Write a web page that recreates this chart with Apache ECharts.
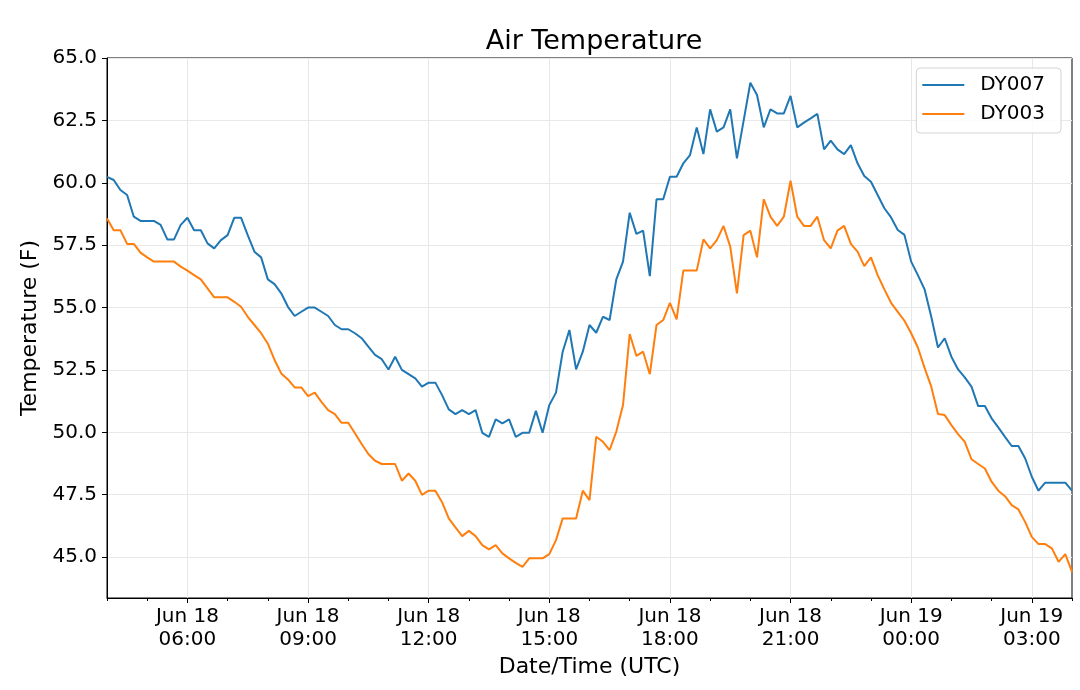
<!DOCTYPE html>
<html>
<head>
<meta charset="utf-8">
<title>Air Temperature</title>
<script src="https://cdn.jsdelivr.net/npm/echarts@6/dist/echarts.min.js"></script>
<style>
  html, body { margin: 0; padding: 0; background: #fff; }
  #chart { width: 1080px; height: 690px; }
</style>
</head>
<body>
<div id="chart"></div>
<script>
////////////////////
// data (10 minute readings, Jun 18 04:00 -> Jun 19 04:00 UTC)
////////////////////
var seriesNames = ['DY007', 'DY003'];

var dy007 = [
  60.24, 60.11, 59.71, 59.51, 58.64, 58.47, 58.47, 58.47, 58.31, 57.73,
  57.73, 58.31, 58.60, 58.10, 58.10, 57.57, 57.37, 57.70, 57.90, 58.60,
  58.60, 57.90, 57.24, 57.01, 56.13, 55.94, 55.57, 55.03, 54.66, 54.83,
  55.00, 55.00, 54.83, 54.66, 54.30, 54.13, 54.13, 53.97, 53.77, 53.43,
  53.10, 52.93, 52.52, 53.03, 52.50, 52.33, 52.16, 51.83, 51.99, 51.99,
  51.49, 50.92, 50.73, 50.89, 50.73, 50.89, 49.98, 49.82, 50.52, 50.36,
  50.52, 49.82, 49.98, 49.98, 50.86, 49.98, 51.09, 51.59, 53.23, 54.10,
  52.52, 53.23, 54.30, 53.99, 54.63, 54.50, 56.13, 56.84, 58.80, 57.95,
  58.08, 56.26, 59.34, 59.34, 60.24, 60.24, 60.78, 61.11, 62.22, 61.15,
  62.94, 62.05, 62.22, 62.94, 60.98, 62.49, 64.01, 63.52, 62.22, 62.94,
  62.78, 62.78, 63.48, 62.22, 62.41, 62.58, 62.76, 61.34, 61.69, 61.34,
  61.15, 61.51, 60.78, 60.27, 60.04, 59.51, 58.98, 58.61, 58.11, 57.91,
  56.84, 56.30, 55.73, 54.63, 53.40, 53.77, 53.03, 52.52, 52.20, 51.83,
  51.05, 51.05, 50.56, 50.20, 49.82, 49.45, 49.45, 48.96, 48.22, 47.66,
  47.98, 47.98, 47.98, 47.98, 47.66
];

var dy003 = [
  58.57, 58.10, 58.10, 57.55, 57.55, 57.20, 57.01, 56.84, 56.84, 56.84,
  56.84, 56.64, 56.48, 56.30, 56.13, 55.77, 55.41, 55.41, 55.41, 55.23,
  55.03, 54.63, 54.30, 53.97, 53.55, 52.90, 52.36, 52.12, 51.80, 51.80,
  51.45, 51.59, 51.22, 50.89, 50.73, 50.38, 50.38, 49.96, 49.53, 49.13,
  48.86, 48.73, 48.73, 48.73, 48.06, 48.35, 48.06, 47.49, 47.66, 47.66,
  47.20, 46.55, 46.19, 45.84, 46.05, 45.84, 45.48, 45.31, 45.48, 45.15,
  44.95, 44.77, 44.61, 44.95, 44.95, 44.95, 45.12, 45.68, 46.55, 46.55,
  46.55, 47.66, 47.28, 49.82, 49.62, 49.29, 50.03, 51.09, 53.94, 53.06,
  53.23, 52.33, 54.30, 54.50, 55.19, 54.53, 56.48, 56.48, 56.48, 57.73,
  57.37, 57.70, 58.27, 57.44, 55.57, 57.90, 58.08, 57.01, 59.34, 58.64,
  58.27, 58.64, 60.08, 58.64, 58.27, 58.27, 58.64, 57.70, 57.37, 58.08,
  58.27, 57.55, 57.24, 56.66, 57.01, 56.30, 55.73, 55.19, 54.83, 54.47,
  53.97, 53.40, 52.58, 51.83, 50.73, 50.69, 50.29, 49.93, 49.62, 48.92,
  48.73, 48.55, 48.02, 47.66, 47.44, 47.08, 46.91, 46.41, 45.81, 45.52,
  45.52, 45.35, 44.81, 45.12, 44.41
];

// category labels: one per reading
var startDay = 18;
var startMinutes = 4 * 60;
var stepMinutes = 10;
var times = [];
for (var i = 0; i < dy007.length; i++) {
  var m = startMinutes + i * stepMinutes;
  var day = startDay + Math.floor(m / 1440);
  var hh = Math.floor((m % 1440) / 60);
  var mm = m % 60;
  times.push('Jun ' + day + '\n' + (hh < 10 ? '0' : '') + hh + ':' + (mm < 10 ? '0' : '') + mm);
}

// major ticks every 3 hours on the clock, minor every hour
function isMajor(index) {
  var m = startMinutes + index * stepMinutes;
  return m % 180 === 0;
}
function isMinor(index) {
  var m = startMinutes + index * stepMinutes;
  return m % 60 === 0;
}

var font = 'DejaVu Sans';

var mychart = echarts.init(document.getElementById('chart'), null, { renderer: 'canvas' });
var chart_option = {
  animation: false,
  backgroundColor: '#fff',
  color: ['#1f77b4', '#ff7f0e'],
  title: {
    text: 'Air Temperature',
    left: 589,
    top: 23,
    textAlign: 'center',
    textStyle: { fontFamily: font, fontSize: 27, fontWeight: 'normal', color: '#000' }
  },
  legend: {
    data: seriesNames,
    orient: 'vertical',
    right: 19,
    top: 68,
    icon: 'rect',
    itemWidth: 42,
    itemHeight: 2,
    itemGap: 9,
    padding: [7, 16, 9, 6],
    borderColor: '#d4d4d4',
    borderWidth: 1,
    borderRadius: 4,
    backgroundColor: 'rgba(255,255,255,0.85)',
    textStyle: { fontFamily: font, fontSize: 20, color: '#000', lineHeight: 20, padding: [0, 0, 0, 11] }
  },
  grid: {
    left: 107,
    right: 8,
    top: 58,
    bottom: 92,
    show: true,
    borderColor: '#000',
    borderWidth: 1,
    backgroundColor: 'transparent'
  },
  xAxis: [
    {
      type: 'category',
      data: times,
      boundaryGap: false,
      name: 'Date/Time (UTC)',
      nameLocation: 'middle',
      nameGap: 50,
      nameTextStyle: { fontFamily: font, fontSize: 22, color: '#000' },
      axisLine: { show: true, onZero: false, lineStyle: { color: '#000', width: 1 } },
      axisTick: {
        show: true,
        length: 5,
        interval: function (index) { return isMajor(index); },
        lineStyle: { color: '#000', width: 1 }
      },
      axisLabel: {
        interval: function (index) { return isMajor(index); },
        fontFamily: font,
        fontSize: 20,
        lineHeight: 23,
        color: '#000',
        margin: 7
      },
      splitLine: {
        show: true,
        interval: function (index) { return isMajor(index); },
        lineStyle: { color: '#e8e8e8', width: 1 }
      }
    },
    {
      type: 'category',
      data: times,
      boundaryGap: false,
      position: 'bottom',
      axisLine: { show: false },
      axisTick: {
        show: true,
        length: 3,
        interval: function (index) { return isMinor(index); },
        lineStyle: { color: '#000', width: 1 }
      },
      axisLabel: { show: false },
      splitLine: { show: false }
    }
  ],
  yAxis: {
    type: 'value',
    min: 43.36,
    max: 65,
    minInterval: 2.5,
    maxInterval: 2.5,
    name: 'Temperature (F)',
    nameLocation: 'middle',
    nameGap: 59,
    nameTextStyle: { fontFamily: font, fontSize: 22, color: '#000' },
    axisLine: { show: true, onZero: false, lineStyle: { color: '#000', width: 1 } },
    axisTick: { show: true, length: 5, lineStyle: { color: '#000', width: 1 } },
    axisLabel: {
      showMinLabel: false,
      fontFamily: font,
      fontSize: 20,
      color: '#000',
      margin: 10,
      formatter: function (v) { return v.toFixed(1); }
    },
    splitLine: { show: true, lineStyle: { color: '#e8e8e8', width: 1 } }
  },
  series: [
    {
      name: seriesNames[0],
      type: 'line',
      data: dy007,
      showSymbol: false,
      symbol: 'none',
      lineStyle: { width: 2 }
    },
    {
      name: seriesNames[1],
      type: 'line',
      data: dy003,
      showSymbol: false,
      symbol: 'none',
      lineStyle: { width: 2 }
    }
  ]
};
mychart.setOption(chart_option);
</script>
</body>
</html>
